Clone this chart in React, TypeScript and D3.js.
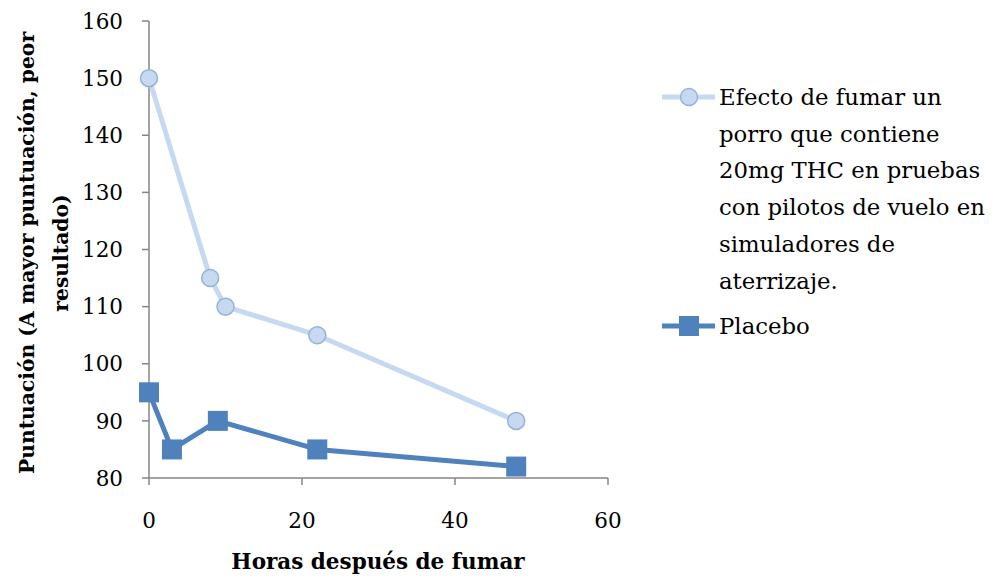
import React from "react";
import * as d3 from "d3";

const thcHours = [0, 8, 10, 22, 48];
const thcScores = [150, 115, 110, 105, 90];
const placeboHours = [0, 3, 9, 22, 48];
const placeboScores = [95, 85, 90, 85, 82];
const yTicks = [80, 90, 100, 110, 120, 130, 140, 150, 160];
const xTicks = [0, 20, 40, 60];
const thcLabelLines = [
  "Efecto de fumar un",
  "porro que contiene",
  "20mg THC en pruebas",
  "con pilotos de vuelo en",
  "simuladores de",
  "aterrizaje.",
];
const placeboLabel = "Placebo";
const xTitle = "Horas después de fumar";
const yTitleLines = ["Puntuación (A mayor puntuación, peor", "resultado)"];

const FONT = "'DejaVu Serif', serif";
const AXIS = "#868686";
const DARK = "#4F81BD";
const LIGHT = "#C6D9F1";
const LIGHT_STROKE = "#95B3D7";

export default function App() {
  const x = d3.scaleLinear().domain([0, 60]).range([149, 608]);
  const y = d3.scaleLinear().domain([80, 160]).range([478, 21]);
  const thc = thcHours.map((h, i) => [h, thcScores[i]] as [number, number]);
  const pla = placeboHours.map((h, i) => [h, placeboScores[i]] as [number, number]);
  const line = d3
    .line<[number, number]>()
    .x((d) => x(d[0]))
    .y((d) => y(d[1]));

  return (
    <div style={{ position: "absolute", left: 0, top: 0 }}>
      <svg width={995} height={579} style={{ display: "block", background: "#fff" }}>
        {/* axes */}
        <line x1={149} x2={149} y1={21} y2={478} stroke={AXIS} strokeWidth={1.5} />
        <line x1={149} x2={608} y1={478} y2={478} stroke={AXIS} strokeWidth={1.5} />
        {yTicks.map((t) => (
          <g key={"y" + t}>
            <line x1={142} x2={149} y1={y(t)} y2={y(t)} stroke={AXIS} strokeWidth={1.5} />
            <text
              x={123}
              y={y(t)}
              dy="0.36em"
              textAnchor="end"
              fontFamily={FONT}
              fontSize={21.5}
              fill="#000"
            >
              {t}
            </text>
          </g>
        ))}
        {xTicks.map((t) => (
          <g key={"x" + t}>
            <line x1={x(t)} x2={x(t)} y1={478} y2={485} stroke={AXIS} strokeWidth={1.5} />
            <text
              x={x(t)}
              y={528}
              textAnchor="middle"
              fontFamily={FONT}
              fontSize={21.5}
              fill="#000"
            >
              {t}
            </text>
          </g>
        ))}
        {/* series */}
        <path d={line(thc) || ""} fill="none" stroke={LIGHT} strokeWidth={5} strokeLinejoin="round" />
        {thc.map((d, i) => (
          <circle
            key={"c" + i}
            cx={x(d[0])}
            cy={y(d[1])}
            r={8.5}
            fill={LIGHT}
            stroke={LIGHT_STROKE}
            strokeWidth={1.5}
          />
        ))}
        <path d={line(pla) || ""} fill="none" stroke={DARK} strokeWidth={5} strokeLinejoin="round" />
        {pla.map((d, i) => (
          <rect
            key={"s" + i}
            x={x(d[0]) - 10}
            y={y(d[1]) - 10}
            width={20}
            height={20}
            fill={DARK}
          />
        ))}
        {/* axis titles */}
        <text
          x={378}
          y={569}
          textAnchor="middle"
          fontFamily={FONT}
          fontWeight="bold"
          fontSize={21.5}
          fill="#000"
        >
          {xTitle}
        </text>
        {yTitleLines.map((l, i) => (
          <text
            key={"yt" + i}
            transform={`translate(${34 + i * 34},253) rotate(-90)`}
            textAnchor="middle"
            fontFamily={FONT}
            fontWeight="bold"
            fontSize={20.3}
            fill="#000"
          >
            {l}
          </text>
        ))}
        {/* legend */}
        <line x1={662} x2={715} y1={97} y2={97} stroke={LIGHT} strokeWidth={5} />
        <circle cx={689} cy={97} r={8.5} fill={LIGHT} stroke={LIGHT_STROKE} strokeWidth={1.5} />
        {thcLabelLines.map((l, i) => (
          <text
            key={"lg" + i}
            x={719}
            y={105 + i * 36.7}
            fontFamily={FONT}
            fontSize={22.8}
            fill="#000"
          >
            {l}
          </text>
        ))}
        <line x1={662} x2={715} y1={326} y2={326} stroke={DARK} strokeWidth={5} />
        <rect x={679} y={316} width={20} height={20} fill={DARK} />
        <text x={719} y={334} fontFamily={FONT} fontSize={22.8} fill="#000">
          {placeboLabel}
        </text>
      </svg>
    </div>
  );
}
